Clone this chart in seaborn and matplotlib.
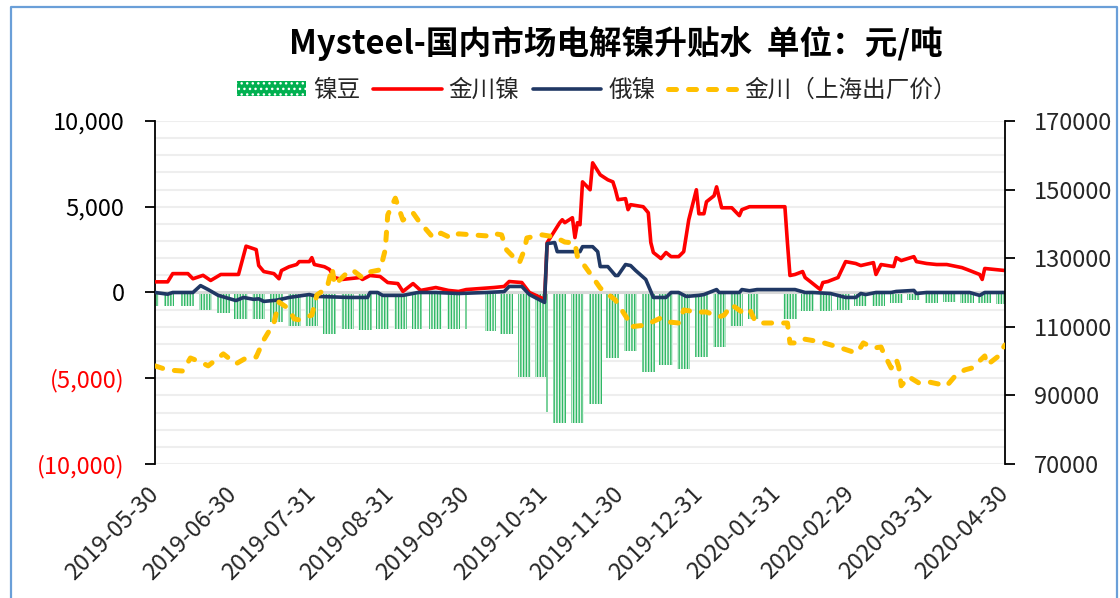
import matplotlib
matplotlib.use('Agg')
import matplotlib.pyplot as plt
import matplotlib.dates as mdates
from matplotlib.lines import Line2D
from matplotlib.patches import Patch
from matplotlib.ticker import MultipleLocator, FixedLocator
import numpy as np
import pandas as pd
import seaborn as sns

sns.set_theme(style='white')
plt.rcParams['font.family'] = ['Noto Sans CJK SC', 'DejaVu Sans']
plt.rcParams['hatch.linewidth'] = 1.0

title = 'Mysteel-国内市场电解镍升贴水  单位：元/吨'
series_names = ['镍豆', '金川镍', '俄镍', '金川（上海出厂价）']

# 镍豆 (bars, left axis): groups of trading days with value
bar_start = ['2019-05-30', '2019-06-03', '2019-06-10', '2019-06-17', '2019-06-24', '2019-07-01',
             '2019-07-08', '2019-07-15', '2019-07-22', '2019-07-29', '2019-08-05', '2019-08-12',
             '2019-08-19', '2019-08-26', '2019-09-02', '2019-09-09', '2019-09-16', '2019-09-23',
             '2019-09-30', '2019-10-08', '2019-10-14', '2019-10-21', '2019-10-28', '2019-11-01',
             '2019-11-04', '2019-11-11', '2019-11-18', '2019-11-25', '2019-12-02', '2019-12-09',
             '2019-12-16', '2019-12-23', '2019-12-30', '2020-01-06', '2020-01-13', '2020-01-20',
             '2020-02-03', '2020-02-10', '2020-02-17', '2020-02-24', '2020-03-02', '2020-03-09',
             '2020-03-16', '2020-03-23', '2020-03-30', '2020-04-06', '2020-04-13', '2020-04-20',
             '2020-04-27']
bar_end = ['2019-05-31', '2019-06-06', '2019-06-14', '2019-06-21', '2019-06-28', '2019-07-05',
           '2019-07-12', '2019-07-19', '2019-07-26', '2019-08-02', '2019-08-09', '2019-08-16',
           '2019-08-23', '2019-08-30', '2019-09-06', '2019-09-12', '2019-09-20', '2019-09-27',
           '2019-09-30', '2019-10-11', '2019-10-18', '2019-10-25', '2019-10-31', '2019-11-01',
           '2019-11-08', '2019-11-15', '2019-11-22', '2019-11-29', '2019-12-06', '2019-12-13',
           '2019-12-20', '2019-12-27', '2020-01-03', '2020-01-10', '2020-01-17', '2020-01-23',
           '2020-02-07', '2020-02-14', '2020-02-21', '2020-02-28', '2020-03-06', '2020-03-13',
           '2020-03-20', '2020-03-27', '2020-04-03', '2020-04-10', '2020-04-17', '2020-04-24',
           '2020-04-30']
bar_vals = [-800, -800, -800, -1000, -1200, -1570,
            -1570, -1740, -1970, -1970, -2440, -2150,
            -2200, -2150, -2150, -2150, -2150, -2150,
            -2150, -2240, -2400, -4940, -4940, -6980,
            -7600, -7600, -6500, -3800, -3400, -4650,
            -4200, -4480, -3780, -3200, -1970, -1570,
            -1570, -1100, -1100, -1000, -800, -780,
            -600, -450, -600, -560, -600, -640,
            -650]

# 金川镍 (left axis)
jc_dates = ['2019-05-30', '2019-06-04', '2019-06-06', '2019-06-12', '2019-06-14', '2019-06-18', '2019-06-21',
            '2019-06-25', '2019-07-02', '2019-07-05', '2019-07-09', '2019-07-10', '2019-07-12', '2019-07-16',
            '2019-07-18', '2019-07-19', '2019-07-22', '2019-07-25', '2019-07-26', '2019-07-30', '2019-07-31',
            '2019-08-01', '2019-08-05', '2019-08-07', '2019-08-09', '2019-08-12', '2019-08-19', '2019-08-20',
            '2019-08-23', '2019-08-27', '2019-08-30', '2019-09-03', '2019-09-05', '2019-09-09', '2019-09-12',
            '2019-09-18', '2019-09-23', '2019-09-27', '2019-09-30', '2019-10-11', '2019-10-15', '2019-10-17',
            '2019-10-22', '2019-10-25', '2019-10-31', '2019-11-01', '2019-11-06', '2019-11-07', '2019-11-08',
            '2019-11-11', '2019-11-12', '2019-11-13', '2019-11-14', '2019-11-15', '2019-11-18', '2019-11-19',
            '2019-11-22', '2019-11-25', '2019-11-27', '2019-11-28', '2019-11-29', '2019-12-02', '2019-12-03',
            '2019-12-04', '2019-12-09', '2019-12-11', '2019-12-12', '2019-12-13', '2019-12-16', '2019-12-18',
            '2019-12-20', '2019-12-23', '2019-12-25', '2019-12-27', '2019-12-30', '2019-12-31', '2020-01-02',
            '2020-01-03', '2020-01-06', '2020-01-07', '2020-01-09', '2020-01-13', '2020-01-16', '2020-01-17',
            '2020-01-20', '2020-02-03', '2020-02-04', '2020-02-05', '2020-02-07', '2020-02-10', '2020-02-11',
            '2020-02-13', '2020-02-17', '2020-02-18', '2020-02-20', '2020-02-21', '2020-02-24', '2020-02-27',
            '2020-03-02', '2020-03-04', '2020-03-09', '2020-03-10', '2020-03-12', '2020-03-17', '2020-03-18',
            '2020-03-20', '2020-03-25', '2020-03-26', '2020-03-30', '2020-04-03', '2020-04-07', '2020-04-13',
            '2020-04-15', '2020-04-20', '2020-04-21', '2020-04-22', '2020-04-30']
jc_vals = [620, 620, 1100, 1100, 800, 1000, 700,
           1050, 1050, 2700, 2500, 1570, 1220, 1100,
           800, 1280, 1500, 1630, 1800, 1800, 2030,
           1630, 1500, 1340, 870, 760, 870, 760,
           990, 930, 580, 520, 60, 520, 120,
           290, 120, 60, 170, 290, 350, 640,
           580, 0, -400, 2900, 4070, 4240, 4070,
           4360, 3200, 4070, 3950, 6450, 5990, 7560,
           6860, 6570, 6450, 5990, 5410, 5470, 4830,
           5120, 5000, 4650, 2910, 2330, 1980, 2330,
           2090, 2090, 2380, 4240, 5990, 4590, 4590,
           5290, 5640, 6160, 4940, 4940, 4480, 4830,
           5000, 5000, 2910, 990, 1050, 1220, 870,
           640, 170, 580, 640, 700, 870, 1800,
           1690, 1570, 1740, 1050, 1630, 1510, 2030,
           1860, 2090, 1800, 1690, 1630, 1630, 1450,
           1340, 1050, 760, 1400, 1280]

# 俄镍 (left axis)
ru_dates = ['2019-05-30', '2019-06-04', '2019-06-06', '2019-06-14', '2019-06-17', '2019-06-20', '2019-06-24',
            '2019-07-01', '2019-07-04', '2019-07-08', '2019-07-10', '2019-07-12', '2019-07-17', '2019-07-22',
            '2019-07-30', '2019-08-02', '2019-08-15', '2019-08-22', '2019-08-23', '2019-08-26', '2019-08-28',
            '2019-09-05', '2019-09-11', '2019-09-18', '2019-09-27', '2019-10-08', '2019-10-15', '2019-10-17',
            '2019-10-22', '2019-10-25', '2019-10-31', '2019-11-01', '2019-11-04', '2019-11-05', '2019-11-14',
            '2019-11-15', '2019-11-19', '2019-11-21', '2019-11-22', '2019-11-25', '2019-11-28', '2019-11-29',
            '2019-12-02', '2019-12-04', '2019-12-06', '2019-12-10', '2019-12-13', '2019-12-18', '2019-12-20',
            '2019-12-23', '2019-12-26', '2019-12-31', '2020-01-02', '2020-01-07', '2020-01-08', '2020-01-16',
            '2020-01-17', '2020-01-20', '2020-01-23', '2020-02-07', '2020-02-11', '2020-02-14', '2020-02-21',
            '2020-02-27', '2020-03-02', '2020-03-04', '2020-03-06', '2020-03-10', '2020-03-16', '2020-03-18',
            '2020-03-25', '2020-03-26', '2020-03-30', '2020-04-16', '2020-04-20', '2020-04-22', '2020-04-30']
ru_vals = [0, -100, 0, 0, 400, 170, -170,
           -470, -290, -400, -370, -520, -450, -290,
           -120, -230, -290, -290, 0, 0, -170,
           -170, 0, 0, -60, 0, 50, 350,
           350, -120, -580, 2850, 2910, 2380, 2380,
           2670, 2670, 2380, 1510, 1510, 990, 990,
           1630, 1570, 1280, 760, -290, -290, 0,
           0, -230, -170, -120, 170, 0, 0,
           170, 100, 170, 170, 0, 0, -60,
           -290, -290, -60, -120, 0, 0, 60,
           120, -60, 0, 0, -170, 0, 0]

# 金川（上海出厂价） (right axis)
sh_dates = ['2019-05-30', '2019-06-04', '2019-06-10', '2019-06-13', '2019-06-17', '2019-06-20', '2019-06-26',
            '2019-07-01', '2019-07-05', '2019-07-09', '2019-07-12', '2019-07-16', '2019-07-18', '2019-07-22',
            '2019-07-24', '2019-07-26', '2019-07-31', '2019-08-02', '2019-08-06', '2019-08-08', '2019-08-09',
            '2019-08-13', '2019-08-16', '2019-08-20', '2019-08-23', '2019-08-27', '2019-08-29', '2019-08-30',
            '2019-09-02', '2019-09-05', '2019-09-09', '2019-09-11', '2019-09-16', '2019-09-17', '2019-09-20',
            '2019-09-24', '2019-09-27', '2019-10-08', '2019-10-10', '2019-10-14', '2019-10-16', '2019-10-21',
            '2019-10-23', '2019-10-24', '2019-10-30', '2019-11-04', '2019-11-08', '2019-11-12', '2019-11-13',
            '2019-11-15', '2019-11-19', '2019-11-22', '2019-11-28', '2019-12-03', '2019-12-04', '2019-12-10',
            '2019-12-16', '2019-12-19', '2019-12-23', '2019-12-25', '2019-12-30', '2020-01-03', '2020-01-08',
            '2020-01-10', '2020-01-13', '2020-01-17', '2020-01-20', '2020-01-22', '2020-01-23', '2020-02-04',
            '2020-02-05', '2020-02-07', '2020-02-10', '2020-02-17', '2020-02-24', '2020-03-02', '2020-03-04',
            '2020-03-05', '2020-03-09', '2020-03-12', '2020-03-13', '2020-03-16', '2020-03-18', '2020-03-19',
            '2020-03-20', '2020-03-23', '2020-03-27', '2020-03-31', '2020-04-07', '2020-04-10', '2020-04-14',
            '2020-04-17', '2020-04-22', '2020-04-23', '2020-04-27', '2020-04-30']
sh_vals = [98600, 97400, 97100, 100900, 99750, 98600, 102100,
           99200, 100900, 101200, 106200, 111100, 117200, 115200,
           112300, 112000, 113400, 119300, 121300, 127200, 122200,
           125100, 126600, 124300, 126000, 126600, 132400, 142600,
           147500, 141100, 143200, 141100, 136800, 135900, 137300,
           135900, 137100, 136500, 137300, 136800, 132400, 128600,
           132400, 135900, 136800, 136200, 134700, 134400, 130400,
           128600, 124500, 121300, 117800, 112000, 110000, 110500,
           112600, 111400, 111100, 114900, 114300, 114300, 112900,
           113400, 116400, 114300, 115200, 112000, 111100, 111100,
           105300, 105300, 106500, 105600, 104100, 102400, 104100,
           105300, 103800, 104100, 102400, 98000, 100600, 98300,
           92800, 95400, 93600, 93900, 92800, 95400, 97400,
           98000, 101500, 98900, 101200, 104700]

left_ticks = [-10000, -5000, 0, 5000, 10000]
left_labels = ['(10,000)', '(5,000)', '0', '5,000', '10,000']
right_ticks = [70000, 90000, 110000, 130000, 150000, 170000]
right_labels = ['70000', '90000', '110000', '130000', '150000', '170000']
x_ticks = ['2019-05-30', '2019-06-30', '2019-07-31', '2019-08-31', '2019-09-30', '2019-10-31',
           '2019-11-30', '2019-12-31', '2020-01-31', '2020-02-29', '2020-03-31', '2020-04-30']

c_bar = '#2fb865'
c_bar_fill = '#e6f6ec'
c_bar_single = '#7ad19b'
c_red = '#ff0000'
c_navy = '#203864'
c_yellow = '#ffc000'

fig = plt.figure(figsize=(11.2, 5.98), dpi=100)
ax = fig.add_axes([0.1384, 0.2241, 0.7589, 0.5736])
ax2 = ax.twinx()

jc_df = pd.DataFrame({'date': pd.to_datetime(jc_dates), 'v': jc_vals})
ru_df = pd.DataFrame({'date': pd.to_datetime(ru_dates), 'v': ru_vals})
sh_df = pd.DataFrame({'date': pd.to_datetime(sh_dates), 'v': sh_vals})

sns.lineplot(data=jc_df, x='date', y='v', ax=ax, color=c_red, linewidth=2.6, zorder=3, legend=False)
sns.lineplot(data=ru_df, x='date', y='v', ax=ax, color=c_navy, linewidth=2.6, zorder=4, legend=False)
sns.lineplot(data=sh_df, x='date', y='v', ax=ax2, color=c_yellow, linewidth=3.6, zorder=5, legend=False,
             linestyle=(0, (1.6, 2.4)), dash_capstyle='round')

bs = mdates.date2num(pd.to_datetime(bar_start))
be = mdates.date2num(pd.to_datetime(bar_end))
bv = np.array(bar_vals)
multi = (be - bs) > 0
# multi-day groups: striped fill; single-day groups: thin solid bar
ax.bar(bs[multi] - 0.6, bv[multi], width=(be[multi] - bs[multi]) + 1.2, align='edge',
       facecolor=c_bar_fill, edgecolor=c_bar, hatch='||||||', linewidth=0, zorder=1.5)
ax.bar(bs[~multi] - 0.3, bv[~multi], width=0.6, align='edge',
       facecolor=c_bar_single, edgecolor='none', linewidth=0, zorder=1.5)
ax.axhline(0, color='#d9d9d9', lw=2.2, zorder=1.8)

# left axis
ax.set_ylim(-10000, 10000)
ax.yaxis.set_major_locator(FixedLocator(left_ticks))
ax.set_yticklabels(left_labels)
for lab, v in zip(ax.get_yticklabels(), left_ticks):
    lab.set_color('#ff0000' if v < 0 else 'black')
ax.yaxis.set_minor_locator(MultipleLocator(1000))
ax.set_axisbelow(True)
ax.grid(True, which='both', axis='y', color='#eeeeee', lw=1.5)
ax.grid(False, axis='x')
ax.tick_params(axis='y', which='major', direction='out', length=7, width=1.3, color='black',
               labelsize=17, left=True, pad=15)
ax.tick_params(axis='y', which='minor', length=0)

# right axis
ax2.set_ylim(70000, 170000)
ax2.yaxis.set_major_locator(FixedLocator(right_ticks))
ax2.set_yticklabels(right_labels)
ax2.grid(False)
ax2.tick_params(axis='y', direction='out', length=7, width=1.3, color='black', labelsize=17,
                right=True, pad=14)

# x axis
xt = mdates.date2num(pd.to_datetime(x_ticks))
ax.set_xlim(mdates.date2num(pd.Timestamp('2019-05-30')), mdates.date2num(pd.Timestamp('2020-04-30')))
ax.set_xticks(xt)
ax.set_xticklabels(x_ticks, rotation=45, ha='right', va='center', rotation_mode='anchor')
ax.tick_params(axis='x', length=0, labelsize=17, pad=19)

for a in (ax, ax2):
    a.set_xlabel('')
    a.set_ylabel('')
for s in ('top', 'right', 'bottom'):
    ax.spines[s].set_visible(False)
for s in ('top', 'left', 'bottom'):
    ax2.spines[s].set_visible(False)
ax.spines['left'].set_color('black')
ax.spines['left'].set_linewidth(1.3)
ax2.spines['right'].set_color('black')
ax2.spines['right'].set_linewidth(1.3)

fig.text(0.5495, 0.928, title, ha='center', va='center', fontsize=23.5, fontweight='bold', color='black')

handles = [Patch(facecolor='#00b050', edgecolor='white', hatch='...', linewidth=0),
           Line2D([], [], color=c_red, lw=2.6),
           Line2D([], [], color=c_navy, lw=2.6),
           Line2D([], [], color=c_yellow, lw=3.6, linestyle=(0, (1.6, 2.4)), dash_capstyle='round')]
fig.legend(handles, series_names, loc='center', bbox_to_anchor=(0.533, 0.849), ncol=4, frameon=False,
           fontsize=17, handlelength=2.9, handleheight=0.6, columnspacing=0.55, handletextpad=0.3)

bx0, bx1, by1 = 11 / 1120, 1117 / 1120, 1 - 7 / 598
fig.add_artist(Line2D([bx0, bx0, bx1, bx1], [0, by1, by1, 0], transform=fig.transFigure,
                      color='#6a9fd8', lw=1.6))

fig.savefig('out.png', dpi=100)
